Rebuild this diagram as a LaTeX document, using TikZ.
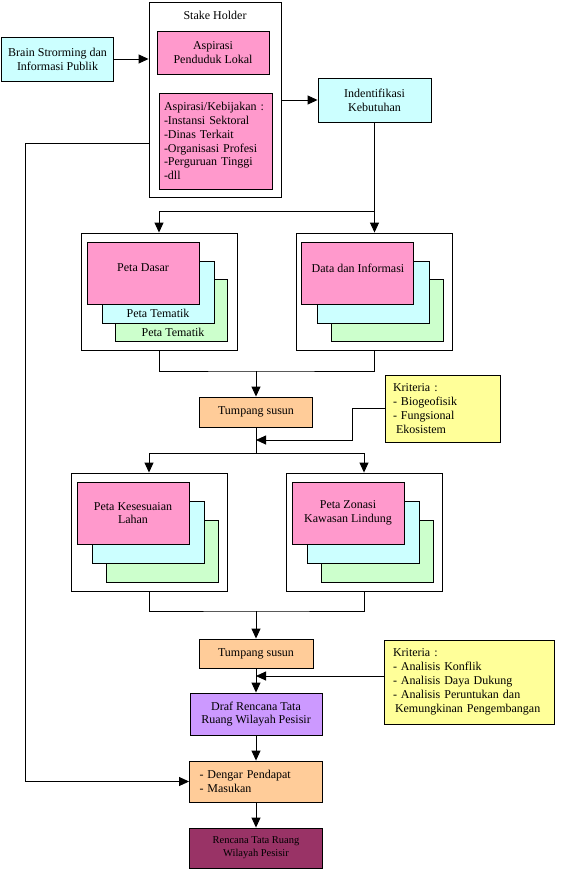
\documentclass[tikz,border=0pt]{standalone}
\usepackage{fontspec}
\setmainfont{Liberation Serif}
\usetikzlibrary{arrows.meta,positioning,calc}
\definecolor{cyanbox}{HTML}{CCFFFF}
\definecolor{pinkbox}{HTML}{FF99CC}
\definecolor{greenbox}{HTML}{CCFFCC}
\definecolor{orangebox}{HTML}{FFCC99}
\definecolor{yellowbox}{HTML}{FFFF99}
\definecolor{purplebox}{HTML}{CC99FF}
\definecolor{maroonbox}{HTML}{993366}

\begin{document}
\begin{tikzpicture}[x=1pt, y=-1pt,
  box/.style={draw, line width=0.9pt, align=center, inner sep=2pt,
              font=\fontsize{12}{13.8}\selectfont},
  outer/.style={draw, line width=0.9pt, fill=white},
  layer/.style={draw, line width=0.9pt, minimum width=112pt,
                minimum height=62pt, align=center,
                font=\fontsize{12}{13.8}\selectfont},
  lbl/.style={font=\fontsize{12}{13.8}\selectfont, inner sep=0pt},
  crit/.style={box, fill=yellowbox, align=left, inner xsep=8pt,
               font=\fontsize{12}{14}\selectfont},
  wire/.style={line width=0.9pt},
  arr/.style={line width=0.9pt, -{Triangle[length=10pt,width=9pt]}}
]
\fill[white] (0,0) rectangle (562,870);
\useasboundingbox (0,0) rectangle (562,870);
% Stake holder
\node[box, fill=cyanbox, minimum width=112pt, minimum height=44pt]
  (brain) at (57.5,59) {Brain Strorming dan\\Informasi Publik};
\node[outer, minimum width=132pt, minimum height=195pt] (stake) at (215,99.5) {};
\node[lbl] (staketitle) at (215,15) {Stake Holder};
\node[box, fill=pinkbox, minimum width=112pt, minimum height=43pt]
  (lokal) at (213,52.5) {Aspirasi\\Penduduk Lokal};
\node[box, fill=pinkbox, align=left, text width=103pt, inner xsep=5pt,
      minimum height=96pt] (kebijakan) at (215.5,141)
  {Aspirasi/Kebijakan :\\-Instansi Sektoral\\-Dinas Terkait\\-Organisasi Profesi\\-Perguruan Tinggi\\-dll};
\node[box, fill=cyanbox, minimum width=113pt, minimum height=44pt]
  (ident) at (374.5,100) {Indentifikasi\\Kebutuhan};
% Peta dasar
\node[outer, minimum width=156pt, minimum height=117pt] (base) at (159,291.5) {};
\node[layer, fill=greenbox] (base3) at (171.5,310.5) {};
\node[layer, fill=cyanbox] (base2) at (158,292) {};
\node[layer, fill=pinkbox] (base1) at (143,273) {};
\node[lbl] (tematik1) at (158,313.5) {Peta Tematik};
\node[lbl] (tematik2) at (173,332.5) {Peta Tematik};
\node[lbl] (dasar) at (143,268) {Peta Dasar};
% Data dan informasi
\node[outer, minimum width=156pt, minimum height=117pt] (data) at (374,291.5) {};
\node[layer, fill=greenbox] (data3) at (387,310.5) {};
\node[layer, fill=cyanbox] (data2) at (373,292) {};
\node[layer, fill=pinkbox] (data1) at (357.5,273) {};
\node[lbl] (datatext) at (358,268) {Data dan Informasi};
% Tumpang susun 1
\node[box, fill=orangebox, minimum width=113pt, minimum height=30pt]
  (tumpang1) at (256,412) {Tumpang susun};
\node[crit, text width=99pt, minimum height=67pt] (krit1) at (442.5,408.5)
  {Kriteria :\\- Biogeofisik\\- Fungsional\\\hspace*{3pt}Ekosistem};
% Peta kesesuaian lahan
\node[outer, minimum width=156pt, minimum height=118pt] (lahan) at (149,532) {};
\node[layer, fill=greenbox] (lahan3) at (162,551) {};
\node[layer, fill=cyanbox] (lahan2) at (148,532.5) {};
\node[layer, fill=pinkbox] (lahan1) at (133,513) {Peta Kesesuaian\\Lahan};
% Peta zonasi
\node[outer, minimum width=156pt, minimum height=118pt] (zonasi) at (364,532) {};
\node[layer, fill=greenbox] (zonasi3) at (377,551) {};
\node[layer, fill=cyanbox] (zonasi2) at (363,532.5) {};
\node[layer, fill=pinkbox] (zonasi1) at (348,513) {Peta Zonasi\\Kawasan Lindung};
% Tumpang susun 2
\node[box, fill=orangebox, minimum width=114pt, minimum height=29pt]
  (tumpang2) at (256,653.5) {Tumpang susun};
\node[crit, text width=152pt, inner xsep=9pt, minimum height=84pt] (krit2) at (469,682)
  {Kriteria :\\- Analisis Konflik\\- Analisis Daya Dukung\\- Analisis Peruntukan dan\\\hspace*{2pt}Kemungkinan Pengembangan};
% Draf dan hasil
\node[box, fill=purplebox, minimum width=132pt, minimum height=42pt]
  (draf) at (256,714) {Draf Rencana Tata\\Ruang Wilayah Pesisir};
\node[box, fill=orangebox, align=left, text width=113pt, inner xsep=10pt,
      minimum height=41pt] (dengar) at (256,781.5) {- Dengar Pendapat\\- Masukan};
\node[box, fill=maroonbox, minimum width=133pt, minimum height=40pt,
      font=\fontsize{10.5}{13}\selectfont] (final) at (256,848)
  {Rencana Tata Ruang\\Wilayah Pesisir};
% Connectors
\coordinate (back) at (25,143);
\coordinate (split1) at (374.5,211);
\coordinate (join1) at (256,371);
\coordinate (in1) at (256,440);
\coordinate (split2) at (256,453);
\coordinate (join2) at (256,611);
\coordinate (in2) at (256,676);
\draw[arr] (brain.east) -- (brain.east -| stake.west);
\draw[arr] (ident.west -| stake.east) -- (ident.west);
\draw[arr] (back -| stake.west) -- (back) |- (dengar.west);
\draw[arr] (ident.south) -- (ident.south |- data.north);
\draw[arr] (split1) -| (base.north);
\draw[wire] (base.south) |- (join1) -| (data.south);
\draw[arr] (join1) -- (tumpang1.north);
\draw[wire] (tumpang1.south) -- (split2);
\draw[arr] (krit1.west) -- ++(-32,0) |- (in1);
\draw[arr] (split2) -| (lahan.north);
\draw[arr] (split2) -| (zonasi.north);
\draw[wire] (lahan.south) |- (join2) -| (zonasi.south);
\draw[arr] (join2) -- (tumpang2.north);
\draw[arr] (tumpang2.south) -- (draf.north);
\draw[arr] (in2 -| krit2.west) -- (in2);
\draw[arr] (draf.south) -- (dengar.north);
\draw[arr] (dengar.south) -- (final.north);
\end{tikzpicture}
\end{document}
